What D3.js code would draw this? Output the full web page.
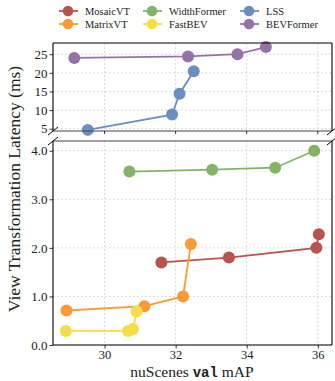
<!DOCTYPE html>
<html>
<head>
<meta charset="utf-8">
<script src="https://cdn.jsdelivr.net/npm/d3@7"></script>
<style>
  html, body { margin: 0; padding: 0; background: #fff; }
  svg { display: block; }
  text { font-family: "Liberation Serif", "DejaVu Serif", serif; fill: #222; }
</style>
</head>
<body>
<svg id="chart" width="335" height="381"></svg>
<script>
// Latency (ms) against nuScenes val mAP for several view-transformation methods
const methods = ["MosaicVT", "MatrixVT", "WidthFormer", "FastBEV", "LSS", "BEVFormer"];
const colors  = ["#b85450", "#fd9a35", "#82b366", "#f5dd4a", "#6c8ebf", "#9673a6"];

const mosaicMAP = [31.6, 33.5, 35.96, 36.03];
const mosaicLat = [1.70, 1.80, 2.00, 2.28];
const matrixMAP = [28.93, 31.12, 32.21, 32.43];
const matrixLat = [0.71, 0.80, 1.00, 2.08];
const widthMAP  = [30.70, 33.03, 34.80, 35.90];
const widthLat  = [3.57, 3.61, 3.65, 4.00];
const fastMAP   = [28.91, 30.66, 30.80, 30.90];
const fastLat   = [0.29, 0.29, 0.33, 0.69];
const lssMAP    = [29.53, 31.90, 32.11, 32.51];
const lssLat    = [4.7, 8.8, 14.4, 20.4];
const bevfMAP   = [29.15, 32.35, 33.74, 34.54];
const bevfLat   = [24.0, 24.4, 25.0, 26.9];

const xTicks      = [30, 32, 34, 36];
const yTicksUpper = [5, 10, 15, 20, 25];
const yTicksLower = [0, 1, 2, 3, 4];

// which panel each series belongs to
const upperSeries = [
  { name: "LSS", x: lssMAP, y: lssLat },
  { name: "BEVFormer", x: bevfMAP, y: bevfLat }
];
const lowerSeries = [
  { name: "WidthFormer", x: widthMAP, y: widthLat },
  { name: "MosaicVT", x: mosaicMAP, y: mosaicLat },
  { name: "MatrixVT", x: matrixMAP, y: matrixLat },
  { name: "FastBEV", x: fastMAP, y: fastLat }
];

const svg = d3.select("#chart");
const color = d3.scaleOrdinal().domain(methods).range(colors);

const left = 53, right = 332;
const x = d3.scaleLinear().domain([28.55, 36.4]).range([left, right]);
const yUp = d3.scaleLinear().domain([4.4, 28]).range([131, 43]);
const yLo = d3.scaleLinear().domain([0, 4.2]).range([345, 141]);

function panel(yScale, yTicks, series, opts) {
  const g = svg.append("g");
  const [y0, y1] = yScale.range(); // bottom, top
  // grid
  g.append("g").selectAll("line.vx").data(xTicks).join("line")
    .attr("x1", d => x(d)).attr("x2", d => x(d))
    .attr("y1", y1).attr("y2", y0)
    .attr("stroke", "#cfcfcf").attr("stroke-width", 0.8).attr("stroke-dasharray", "2,2");
  g.append("g").selectAll("line.hy").data(yTicks).join("line")
    .attr("x1", left).attr("x2", right)
    .attr("y1", d => yScale(d)).attr("y2", d => yScale(d))
    .attr("stroke", "#cfcfcf").attr("stroke-width", 0.8).attr("stroke-dasharray", "2,2");

  // series
  const line = d3.line().x(d => x(d[0])).y(d => yScale(d[1]));
  series.forEach(s => {
    const pts = s.x.map((v, i) => [v, s.y[i]]);
    const c = color(s.name);
    const sg = g.append("g");
    sg.append("path").attr("d", line(pts)).attr("fill", "none")
      .attr("stroke", c).attr("stroke-width", 1.8);
    sg.selectAll("circle").data(pts).join("circle")
      .attr("cx", d => x(d[0])).attr("cy", d => yScale(d[1])).attr("r", 6)
      .attr("fill", c);
  });

  // y axis
  const ya = g.append("g").attr("transform", `translate(${left},0)`)
    .call(d3.axisLeft(yScale).tickValues(yTicks).tickSize(3.5).tickPadding(2));
  ya.select(".domain").remove();
  ya.selectAll(".tick line").attr("stroke", "#000").attr("stroke-width", 0.8);
  ya.selectAll(".tick text").attr("font-size", 13)
    .attr("font-family", "Liberation Serif, DejaVu Serif, serif").attr("fill", "#222");

  // spines
  g.append("line").attr("x1", left).attr("x2", left).attr("y1", y1).attr("y2", y0)
    .attr("stroke", "#000").attr("stroke-width", 1.1);
  g.append("line").attr("x1", right).attr("x2", right).attr("y1", y1).attr("y2", y0)
    .attr("stroke", "#000").attr("stroke-width", 1.1);
  g.append("line").attr("x1", left).attr("x2", right).attr("y1", opts.topY).attr("y2", opts.topY)
    .attr("stroke", opts.topColor).attr("stroke-width", 1.1);
  g.append("line").attr("x1", left).attr("x2", right).attr("y1", opts.botY).attr("y2", opts.botY)
    .attr("stroke", opts.botColor).attr("stroke-width", 1.1);
  return g;
}

panel(yUp, yTicksUpper, upperSeries, { topY: 43, topColor: "#000", botY: 131, botColor: "#444" });
panel(yLo, yTicksLower, lowerSeries, { topY: 141, topColor: "#444", botY: 345, botColor: "#000" });

// tick marks under the upper panel
svg.append("g").selectAll("line").data(xTicks).join("line")
  .attr("x1", d => x(d)).attr("x2", d => x(d)).attr("y1", 131).attr("y2", 134)
  .attr("stroke", "#000").attr("stroke-width", 0.8);

// x axis of the lower panel
const xa = svg.append("g").attr("transform", "translate(0,345)")
  .call(d3.axisBottom(x).tickValues(xTicks).tickSize(3.5).tickPadding(2));
xa.select(".domain").remove();
xa.selectAll(".tick line").attr("stroke", "#000").attr("stroke-width", 0.8);
xa.selectAll(".tick text").attr("font-size", 12.5)
  .attr("font-family", "Liberation Serif, DejaVu Serif, serif").attr("fill", "#222");

// axis-break diagonals
const breaks = [[left, 131], [right, 131], [left, 141], [right, 141]];
svg.append("g").selectAll("line").data(breaks).join("line")
  .attr("x1", d => d[0] - 5).attr("y1", d => d[1] + 4)
  .attr("x2", d => d[0] + 5).attr("y2", d => d[1] - 4)
  .attr("stroke", "#000").attr("stroke-width", 1);

// axis titles
const xt = svg.append("text").attr("x", 192).attr("y", 376.5)
  .attr("text-anchor", "middle").attr("font-size", 15.5);
xt.append("tspan").text("nuScenes ");
xt.append("tspan").text("val").attr("font-family", "Liberation Mono, DejaVu Sans Mono, monospace")
  .attr("font-weight", "bold").attr("font-size", 14);
xt.append("tspan").text(" mAP");

svg.append("text")
  .attr("transform", "translate(20,189) rotate(-90)")
  .attr("text-anchor", "middle").attr("font-size", 17.5)
  .text("View Transformation Latency (ms)");

// legend, two rows of three
const legendX = [68, 152, 249];
const legendY = [11, 24];
const lg = svg.append("g");
methods.forEach((m, i) => {
  const col = Math.floor(i / 2);
  const row = i % 2;
  const cx = legendX[col], cy = legendY[row];
  const c = color(m);
  lg.append("line").attr("x1", cx - 9).attr("x2", cx + 10).attr("y1", cy).attr("y2", cy)
    .attr("stroke", c).attr("stroke-width", 1.8);
  lg.append("circle").attr("cx", cx).attr("cy", cy).attr("r", 5.3).attr("fill", c);
  lg.append("text").attr("x", cx + 17).attr("y", cy + 3.5).attr("font-size", 10.5).text(m);
});
</script>
</body>
</html>
